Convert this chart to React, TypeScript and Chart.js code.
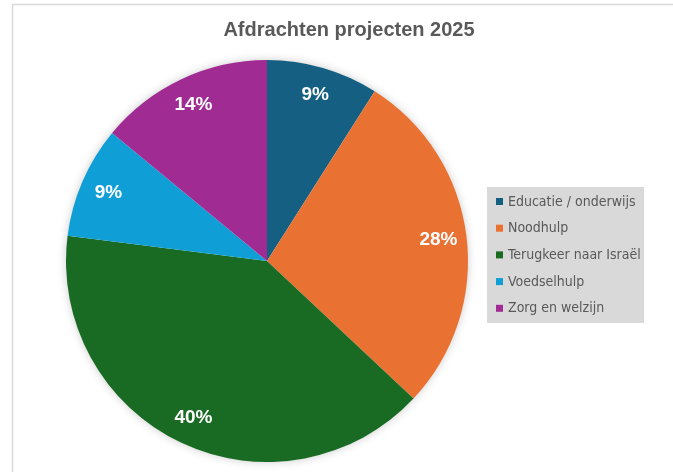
import React, { useEffect, useRef } from "react";
import { Chart, registerables } from "chart.js";

Chart.register(...registerables);

const categories = [
  "Educatie / onderwijs",
  "Noodhulp",
  "Terugkeer naar Israël",
  "Voedselhulp",
  "Zorg en welzijn",
];
const values = [9, 28, 40, 9, 14];
const colors = ["#156082", "#E97132", "#196B24", "#0F9ED5", "#A02B93"];
const title = "Afdrachten projecten 2025";

const W = 673;
const H = 472;

const overlayPlugin = {
  id: "overlay",
  beforeDraw(chart: any) {
    const ctx = chart.ctx;
    ctx.save();
    ctx.fillStyle = "#ffffff";
    ctx.fillRect(0, 0, W, H);
    ctx.strokeStyle = "#d9d9d9";
    ctx.lineWidth = 1.5;
    ctx.beginPath();
    ctx.moveTo(12.5, H);
    ctx.lineTo(12.5, 4.5);
    ctx.lineTo(W, 4.5);
    ctx.stroke();
    ctx.restore();
  },
  beforeDatasetsDraw(chart: any) {
    const meta = chart.getDatasetMeta(0);
    const arc = meta.data[0];
    if (!arc) return;
    const { x, y, outerRadius } = arc.getProps(["x", "y", "outerRadius"], true);
    const ctx = chart.ctx;
    ctx.save();
    ctx.shadowColor = "rgba(0,0,0,0.22)";
    ctx.shadowBlur = 10;
    ctx.shadowOffsetX = 0;
    ctx.shadowOffsetY = 0;
    ctx.fillStyle = "#ffffff";
    ctx.beginPath();
    ctx.arc(x, y, outerRadius - 0.5, 0, Math.PI * 2);
    ctx.fill();
    ctx.restore();
  },
  afterDraw(chart: any) {
    const ctx = chart.ctx;
    const meta = chart.getDatasetMeta(0);
    const data = chart.data.datasets[0].data as number[];
    const total = data.reduce((a, b) => a + b, 0);
    ctx.save();
    // data labels
    ctx.fillStyle = "#ffffff";
    ctx.font = "bold 19px 'Liberation Sans', Arial, sans-serif";
    ctx.textAlign = "center";
    ctx.textBaseline = "middle";
    meta.data.forEach((arc: any, i: number) => {
      const { x, y, startAngle, endAngle, outerRadius } = arc.getProps(
        ["x", "y", "startAngle", "endAngle", "outerRadius"],
        true
      );
      const mid = (startAngle + endAngle) / 2;
      const r = outerRadius * 0.86;
      const pct = Math.round((data[i] / total) * 100) + "%";
      ctx.fillText(pct, x + Math.cos(mid) * r, y + Math.sin(mid) * r);
    });
    // title
    ctx.fillStyle = "#595959";
    ctx.font = "bold 20px 'Liberation Sans', Arial, sans-serif";
    ctx.fillText(chart.options.plugins.customTitle.text, 349, 30);
    // legend
    const lx = 487;
    const ly = 187;
    const lw = 157;
    const lh = 136;
    ctx.fillStyle = "#d9d9d9";
    ctx.fillRect(lx, ly, lw, lh);
    ctx.textAlign = "left";
    ctx.font = "14px 'Liberation Sans Narrow', 'DejaVu Sans Condensed', Roboto, sans-serif";
    const labels = chart.data.labels as string[];
    labels.forEach((lab: string, i: number) => {
      const cy = 201.5 + i * 26.7;
      ctx.fillStyle = colors[i];
      ctx.fillRect(496, cy - 3.5, 7, 7);
      ctx.fillStyle = "#595959";
      ctx.fillText(lab, 508, cy + 0.5);
    });
    ctx.restore();
  },
};

export default function App() {
  const ref = useRef<HTMLCanvasElement>(null);
  useEffect(() => {
    if (!ref.current) return;
    const chart = new Chart(ref.current, {
      type: "pie",
      data: {
        labels: categories,
        datasets: [
          {
            data: values,
            backgroundColor: colors,
            borderWidth: 0,
          },
        ],
      },
      options: {
        responsive: false,
        animation: false,
        devicePixelRatio: 1,
        layout: { padding: { left: 66, top: 60, right: W - 468, bottom: H - 462 } },
        plugins: {
          legend: { display: false },
          title: { display: false },
          tooltip: { enabled: false },
          customTitle: { text: title },
        } as any,
      },
      plugins: [overlayPlugin],
    });
    return () => chart.destroy();
  }, []);
  return (
    <div style={{ position: "absolute", left: 0, top: 0, width: W, height: H, background: "#fff" }}>
      <canvas ref={ref} width={W} height={H} style={{ width: W, height: H, display: "block" }} />
    </div>
  );
}
